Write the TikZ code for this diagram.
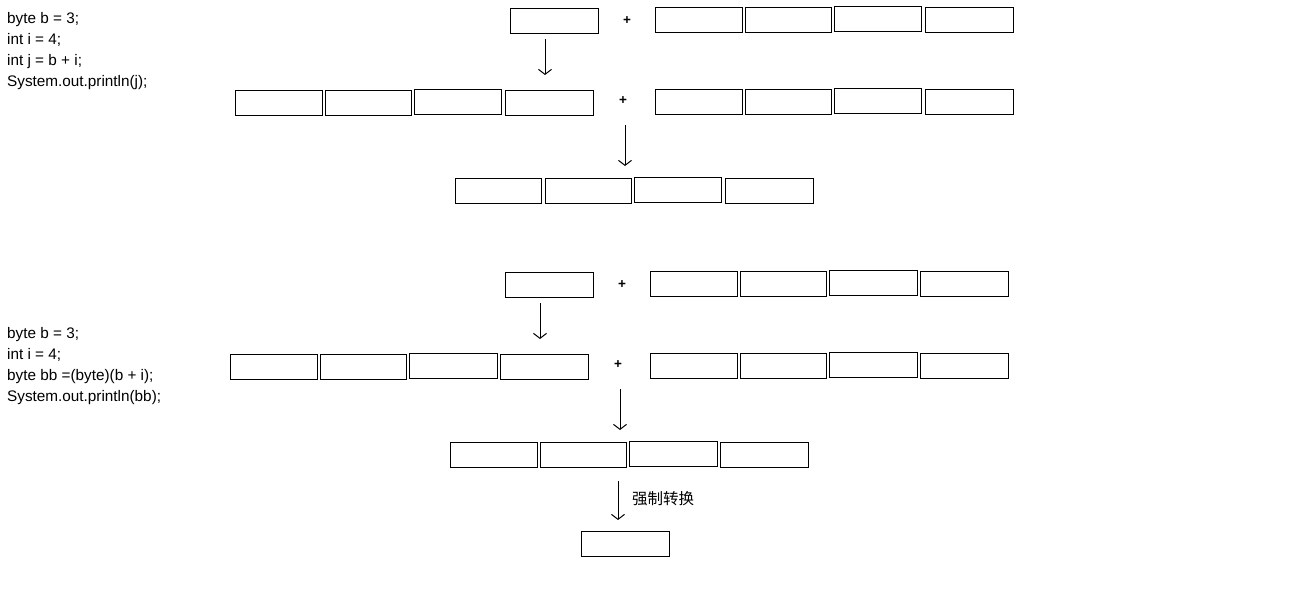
\documentclass[tikz,border=0pt]{standalone}
\usepackage{fontspec}
\setmainfont{Liberation Sans}
\newfontfamily\cjk{Noto Sans CJK SC}
\usetikzlibrary{arrows.meta}
\begin{document}
\begin{tikzpicture}[x=1pt,y=-1pt,
  cell/.style={draw, line width=1.3pt, inner sep=0pt, minimum height=25pt, anchor=north west},
  code/.style={anchor=base west, inner sep=0pt, font=\fontsize{15.3}{17}\selectfont},
  plus/.style={inner sep=0pt, font=\bfseries\fontsize{13.5}{14}\selectfont},
  arr/.style={line width=1pt, -{Straight Barb[length=5pt,width=13pt,line width=1pt]}}]
\useasboundingbox (0,0) rectangle (1294,598);
\fill[white] (0,0) rectangle (1294,598);
% ---- first block code
\node[code] (t1) at (7,23) {byte b = 3;};
\node[code] (t2) at (7,44) {int i = 4;};
\node[code] (t3) at (7,65) {int j = b + i;};
\node[code] (t4) at (7,86) {System.out.println(j);};
% row 1
\node[cell, minimum width=88pt] (r1a) at (510,8) {};
\node[plus] (p1) at (627,21) {+};
\node[cell, minimum width=87pt] (r1b) at (655,7) {};
\node[cell, minimum width=86pt] (r1c) at (745,7) {};
\node[cell, minimum width=87pt] (r1d) at (834,6) {};
\node[cell, minimum width=88pt] (r1e) at (925,7) {};
% row 2
\node[cell, minimum width=87pt] (r2a) at (235,90) {};
\node[cell, minimum width=86pt] (r2b) at (325,90) {};
\node[cell, minimum width=87pt] (r2c) at (414,89) {};
\node[cell, minimum width=88pt] (r2d) at (505,90) {};
\node[plus] (p2) at (623,101) {+};
\node[cell, minimum width=87pt] (r2e) at (655,89) {};
\node[cell, minimum width=86pt] (r2f) at (745,89) {};
\node[cell, minimum width=87pt] (r2g) at (834,88) {};
\node[cell, minimum width=88pt] (r2h) at (925,89) {};
% row 3
\node[cell, minimum width=86pt] (r3a) at (455,178) {};
\node[cell, minimum width=86pt] (r3b) at (545,178) {};
\node[cell, minimum width=87pt] (r3c) at (634,177) {};
\node[cell, minimum width=88pt] (r3d) at (725,178) {};
% arrows first block
\coordinate (a1s) at (545,39); \coordinate (a1e) at (545,75);
\draw[arr] (a1s) -- (a1e);
\coordinate (a2s) at (625,125); \coordinate (a2e) at (625,166);
\draw[arr] (a2s) -- (a2e);
% ---- second block code
\node[code] (u1) at (7,338) {byte b = 3;};
\node[code] (u2) at (7,359) {int i = 4;};
\node[code] (u3) at (7,380) {byte bb =(byte)(b + i);};
\node[code] (u4) at (7,401) {System.out.println(bb);};
% row 4
\node[cell, minimum width=88pt] (r4a) at (505,272) {};
\node[plus] (p4) at (622,285) {+};
\node[cell, minimum width=87pt] (r4b) at (650,271) {};
\node[cell, minimum width=86pt] (r4c) at (740,271) {};
\node[cell, minimum width=88pt] (r4d) at (829,270) {};
\node[cell, minimum width=88pt] (r4e) at (920,271) {};
% row 5
\node[cell, minimum width=87pt] (r5a) at (230,354) {};
\node[cell, minimum width=86pt] (r5b) at (320,354) {};
\node[cell, minimum width=88pt] (r5c) at (409,353) {};
\node[cell, minimum width=88pt] (r5d) at (500,354) {};
\node[plus] (p5) at (618,365) {+};
\node[cell, minimum width=87pt] (r5e) at (650,353) {};
\node[cell, minimum width=86pt] (r5f) at (740,353) {};
\node[cell, minimum width=88pt] (r5g) at (829,352) {};
\node[cell, minimum width=88pt] (r5h) at (920,353) {};
% row 6
\node[cell, minimum width=87pt] (r6a) at (450,442) {};
\node[cell, minimum width=86pt] (r6b) at (540,442) {};
\node[cell, minimum width=88pt] (r6c) at (629,441) {};
\node[cell, minimum width=88pt] (r6d) at (720,442) {};
% final
\node[cell, minimum width=88pt] (r7) at (581,531) {};
% arrows second block
\coordinate (a3s) at (540,303); \coordinate (a3e) at (540,339);
\draw[arr] (a3s) -- (a3e);
\coordinate (a4s) at (620,389); \coordinate (a4e) at (620,430);
\draw[arr] (a4s) -- (a4e);
\coordinate (a5s) at (618,481); \coordinate (a5e) at (618,520);
\draw[arr] (a5s) -- (a5e);
\node[anchor=west, inner sep=0pt, font=\cjk\fontsize{15.5}{16}\selectfont] (lbl) at (632,499) {强制转换};
\end{tikzpicture}
\end{document}
